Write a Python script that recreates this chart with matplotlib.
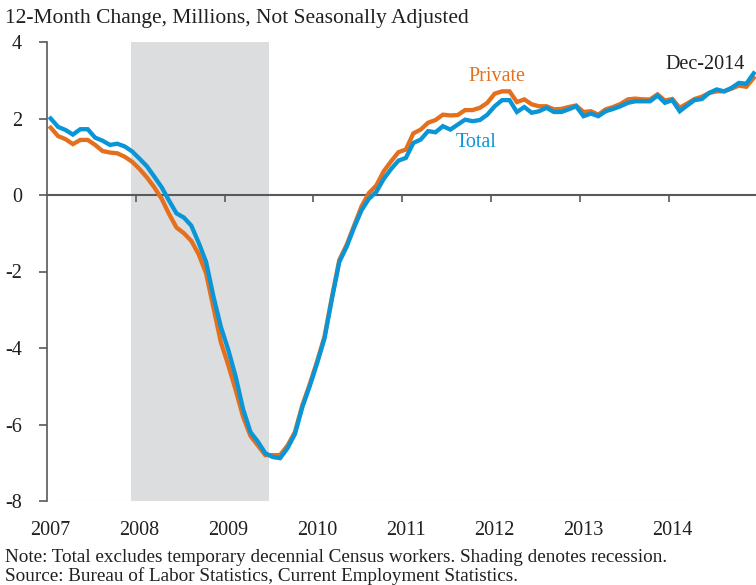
import matplotlib
matplotlib.use("Agg")
import matplotlib.pyplot as plt
import numpy as np

# 12-month change in nonfarm payrolls, millions (not seasonally adjusted), Jan 2007 - Dec 2014
years = [2007, 2008, 2009, 2010, 2011, 2012, 2013, 2014]

total_2007 = [2.00, 1.78, 1.70, 1.58, 1.72, 1.72, 1.50, 1.42, 1.31, 1.34, 1.27, 1.14]
total_2008 = [0.95, 0.75, 0.48, 0.20, -0.15, -0.48, -0.59, -0.80, -1.25, -1.75, -2.66, -3.45]
total_2009 = [-4.05, -4.75, -5.60, -6.20, -6.45, -6.75, -6.85, -6.88, -6.62, -6.25, -5.55, -5.00]
total_2010 = [-4.40, -3.75, -2.72, -1.75, -1.35, -0.85, -0.40, -0.10, 0.08, 0.42, 0.68, 0.90]
total_2011 = [0.97, 1.36, 1.45, 1.67, 1.64, 1.80, 1.71, 1.84, 1.97, 1.93, 1.96, 2.10]
total_2012 = [2.32, 2.48, 2.48, 2.17, 2.30, 2.15, 2.19, 2.28, 2.17, 2.17, 2.24, 2.32]
total_2013 = [2.06, 2.13, 2.06, 2.19, 2.25, 2.32, 2.41, 2.45, 2.45, 2.45, 2.60, 2.41]
total_2014 = [2.48, 2.19, 2.34, 2.48, 2.51, 2.67, 2.76, 2.71, 2.80, 2.93, 2.91, 3.18]

private_2007 = [1.76, 1.54, 1.46, 1.33, 1.44, 1.44, 1.31, 1.15, 1.11, 1.09, 1.00, 0.87]
private_2008 = [0.68, 0.46, 0.20, -0.10, -0.50, -0.85, -1.00, -1.20, -1.55, -2.05, -2.95, -3.85]
private_2009 = [-4.45, -5.10, -5.80, -6.30, -6.55, -6.80, -6.80, -6.80, -6.55, -6.20, -5.50, -4.95]
private_2010 = [-4.35, -3.70, -2.67, -1.70, -1.30, -0.80, -0.30, 0.05, 0.25, 0.62, 0.88, 1.12]
private_2011 = [1.19, 1.61, 1.71, 1.89, 1.96, 2.10, 2.08, 2.09, 2.22, 2.22, 2.28, 2.41]
private_2012 = [2.65, 2.71, 2.71, 2.43, 2.50, 2.37, 2.32, 2.32, 2.24, 2.25, 2.30, 2.34]
private_2013 = [2.17, 2.19, 2.10, 2.24, 2.30, 2.38, 2.50, 2.52, 2.50, 2.50, 2.63, 2.47]
private_2014 = [2.51, 2.28, 2.39, 2.51, 2.57, 2.67, 2.71, 2.71, 2.78, 2.86, 2.83, 3.06]

# recession: Dec 2007 - Jun 2009
recession_start = 2007 + 11.4 / 12
recession_end = 2009 + 6 / 12

y_ticks = [4, 2, 0, -2, -4, -6, -8]

title = "12-Month Change, Millions, Not Seasonally Adjusted"
note = "Note: Total excludes temporary decennial Census workers. Shading denotes recession."
source = "Source: Bureau of Labor Statistics, Current Employment Statistics."

total = np.array(total_2007 + total_2008 + total_2009 + total_2010 +
                 total_2011 + total_2012 + total_2013 + total_2014)
private = np.array(private_2007 + private_2008 + private_2009 + private_2010 +
                   private_2011 + private_2012 + private_2013 + private_2014)
months = np.arange(len(total))
x = years[0] + (months + 0.5) / 12.0

ORANGE = "#e4701e"
BLUE = "#0a96d6"
TEXT = "#231f20"
AXIS = "#58595b"

plt.rcParams["font.family"] = ["Liberation Serif", "DejaVu Serif"]
plt.rcParams["font.size"] = 14.5

W, H = 756, 585
fig = plt.figure(figsize=(W / 100, H / 100), dpi=100)
ax = fig.add_axes([47 / W, 1 - 501 / H, (W - 47) / W, (501 - 42) / H])

ax.axvspan(recession_start, recession_end, color="#dcdddf", lw=0, zorder=0)
ax.axhline(-8, xmin=0.007, xmax=0.91, color="#ececec", lw=1.0, zorder=0.5)

ax.plot(x, private, color=ORANGE, lw=3.1, solid_joinstyle="miter", zorder=3)
ax.plot(x, total, color=BLUE, lw=3.1, solid_joinstyle="miter", zorder=4)

ax.set_xlim(2007, 2007 + (W - 47) / 88.8)
ax.set_ylim(-8, 4)

for s in ("top", "right"):
    ax.spines[s].set_visible(False)
ax.spines["left"].set_color(AXIS)
ax.spines["left"].set_linewidth(1.2)
ax.spines["bottom"].set_position(("data", 0))
ax.spines["bottom"].set_color(AXIS)
ax.spines["bottom"].set_linewidth(1.5)
ax.spines["bottom"].set_zorder(2)

ax.set_yticks(y_ticks)
ax.set_yticklabels([str(v) for v in y_ticks], color=TEXT)
ax.tick_params(axis="y", direction="out", length=6, width=1.2, color=AXIS, pad=12,
               labelsize=14.5)
ax.set_xticks(years[1:])
ax.set_xticklabels([])
ax.tick_params(axis="x", direction="out", length=5, width=1.2, color=AXIS)

lab_tr = ax.get_xaxis_transform()
for yr in years:
    ax.text(yr + 0.04, -0.075, str(yr), transform=lab_tr, ha="center", va="baseline",
            color=TEXT, fontsize=14.5)

ax.text(2012.07, 3.10, "Private", color=ORANGE, ha="center", va="center", fontsize=14.5)
ax.text(2011.83, 1.38, "Total", color=BLUE, ha="center", va="center", fontsize=14.5)
ax.text(2014.41, 3.42, "Dec-2014", color=TEXT, ha="center", va="center", fontsize=14.5)

fig.text(5 / W, 1 - 23 / H, title, ha="left", va="baseline", color=TEXT, fontsize=15.5)
fig.text(5 / W, 1 - 562 / H, note, ha="left", va="baseline", color=TEXT, fontsize=13.8)
fig.text(5 / W, 1 - 581 / H, source, ha="left", va="baseline", color=TEXT, fontsize=13.8)

fig.savefig("out.png", dpi=100)
